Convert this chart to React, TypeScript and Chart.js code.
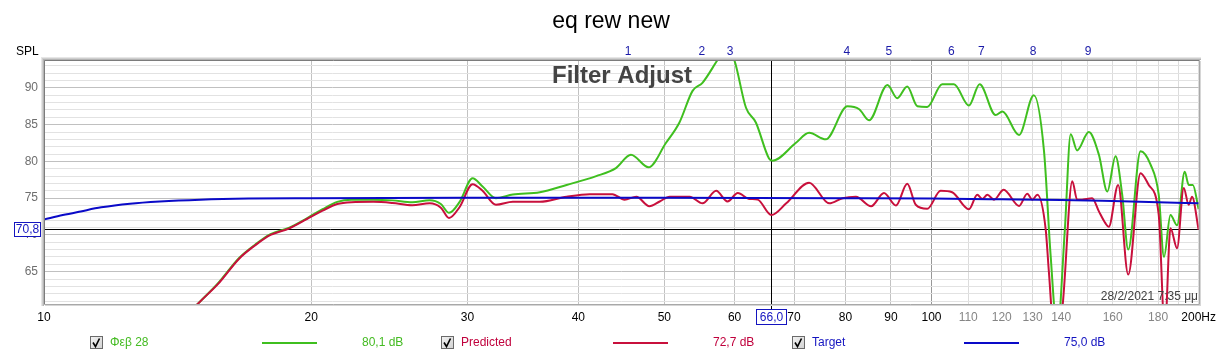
import React, { useEffect, useRef } from 'react';
import { Chart, registerables } from 'chart.js';
Chart.register(...registerables);

const FONT = "'Liberation Sans', Arial, sans-serif";
const GREEN = '#3fbf1f';
const RED = '#c8103c';
const BLUE = '#0a0ac8';

const chartTitle = 'eq rew new';
const overlayLabel = 'Filter Adjust';
const dateLabel = '28/2/2021 7:35 μμ';
const yAxisTitle = 'SPL';

const measFreq = [14.5, 14.9, 15.7, 16.6, 17.3, 18.0, 18.9, 19.8, 20.6, 21.4, 22.2, 23.5, 24.7, 26.0, 27.2, 28.0, 28.6, 29.4, 30.4, 31.2, 32.3, 33.75, 36.2, 38.8, 41.9, 44.1, 45.85, 48.0, 50.2, 52.0, 53.8, 55.2, 57.4, 58.7, 59.95, 61.8, 63.4, 65.6, 66.2, 70.3, 72.8, 76.0, 80.4, 82.9, 85.05, 89.2, 91.5, 93.9, 96.4, 98.9, 102.8, 106.0, 110.2, 113.3, 118.1, 120.2, 125.5, 130.4, 133.9, 136.2, 138.6, 141.3, 143.5, 145.9, 150.4, 154.4, 157.8, 161.2, 164.0, 166.6, 172.0, 176.5, 180.3, 182.8, 185.9, 189.1, 192.9, 194.9, 197.0, 200];
const measSpl = [59.0, 60.6, 63.4, 66.9, 68.7, 70.1, 71.0, 72.3, 73.5, 74.5, 74.8, 74.8, 74.7, 74.45, 74.7, 74.2, 73.0, 74.5, 77.7, 76.6, 75.0, 75.5, 75.8, 76.8, 78.0, 79.1, 80.9, 79.2, 82.5, 85.3, 89.6, 90.7, 93.8, 95.5, 93.8, 87.3, 85.3, 80.4, 80.1, 82.5, 83.9, 83.0, 87.5, 87.1, 85.6, 90.4, 88.6, 90.2, 87.5, 87.4, 90.5, 90.5, 87.6, 90.5, 86.3, 86.8, 83.6, 89.0, 81.4, 67.3, 57.0, 70.5, 83.7, 81.5, 84.0, 80.9, 75.9, 80.7, 75.5, 68.0, 81.4, 79.6, 75.5, 67.0, 72.7, 71.3, 78.6, 76.8, 76.8, 73.5];

const predFreq = [14.5, 14.9, 15.7, 16.6, 17.3, 18.0, 18.9, 19.8, 20.6, 21.4, 22.2, 23.5, 24.7, 26.0, 27.2, 28.0, 28.6, 29.4, 30.4, 31.2, 32.3, 33.75, 36.2, 38.8, 41.2, 43.7, 45.1, 46.5, 48.1, 49.4, 50.7, 53.4, 55.2, 57.2, 58.9, 60.5, 62.3, 63.7, 66.0, 68.6, 72.8, 76.7, 79.4, 82.2, 85.5, 88.4, 91.2, 93.9, 96.0, 98.9, 102.4, 105.5, 110.2, 112.6, 114.1, 115.6, 117.6, 120.6, 125.5, 128.2, 129.9, 131.6, 134.5, 135.6, 137.4, 140.4, 144.1, 145.9, 147.8, 149.5, 151.7, 154.4, 157.0, 158.4, 162.3, 166.6, 172.0, 175.7, 180.3, 183.2, 185.9, 189.1, 192.4, 194.9, 196.6, 200];
const predSpl = [59.0, 60.6, 63.3, 66.8, 68.6, 70.0, 70.9, 72.2, 73.3, 74.2, 74.45, 74.5, 74.35, 74.05, 74.3, 73.7, 72.3, 73.8, 76.9, 76.0, 74.1, 74.5, 74.5, 75.2, 75.55, 75.55, 74.8, 75.2, 73.9, 74.55, 75.2, 75.2, 74.3, 76.0, 74.55, 75.7, 74.9, 74.8, 72.7, 74.3, 77.1, 74.3, 75.0, 75.2, 73.9, 75.7, 74.0, 76.95, 74.1, 73.55, 76.0, 75.8, 73.5, 75.45, 74.9, 75.45, 74.8, 76.15, 73.95, 75.6, 74.8, 75.45, 70.7, 65.0, 57.0, 60.0, 77.3, 74.8, 74.8, 74.9, 75.0, 73.2, 71.6, 71.1, 76.8, 64.6, 78.4, 76.8, 72.8, 57.0, 70.9, 68.2, 76.4, 74.1, 75.2, 70.7];

const targetFreq = [10, 10.5, 11, 11.6, 12.5, 13.5, 15, 17, 20, 30, 50, 80, 100, 120, 140, 160, 180, 200];
const targetSpl = [72.1, 72.7, 73.2, 73.75, 74.25, 74.55, 74.8, 74.95, 75.0, 75.05, 75.05, 75.0, 74.95, 74.85, 74.75, 74.6, 74.45, 74.3];

const xTickValues = [10, 20, 30, 40, 50, 60, 70, 80, 90, 100, 110, 120, 130, 140, 150, 160, 170, 180, 190, 200];
const xTickLabels = ['10', '20', '30', '40', '50', '60', '70', '80', '90', '100', '110', '120', '130', '140', '', '160', '', '180', '', '200Hz'];
const yLabelValues = [65, 70, 75, 80, 85, 90];
const yMin = 60.6;
const yMax = 93.8;

const filterFreqs = [45.5, 55.1, 59.3, 80.3, 89.5, 105.3, 113.8, 130.2, 150.1];
const filterLabels = ['1', '2', '3', '4', '5', '6', '7', '8', '9'];

const cursorFreq = 66.0;
const cursorSpl = 70.8;
const cursorFreqLabel = '66,0';
const cursorSplLabel = '70,8';

const legendNames = ['Φεβ 28', 'Predicted', 'Target'];
const legendValues = ['80,1 dB', '72,7 dB', '75,0 dB'];
const legendColors = [GREEN, RED, BLUE];
const legendTextColors = ['#44bb22', '#c0003c', '#1414c0'];

function pts(fs: number[], vs: number[]) {
  return fs.map((f, i) => ({ x: f, y: vs[i] }));
}

function drawCheckbox(ctx: CanvasRenderingContext2D, x: number, y: number) {
  const g = ctx.createLinearGradient(x, y, x + 13, y + 13);
  g.addColorStop(0, '#f4f4f4');
  g.addColorStop(1, '#d0d0d0');
  ctx.fillStyle = g;
  ctx.fillRect(x, y, 13, 13);
  ctx.strokeStyle = '#6a6a6a';
  ctx.lineWidth = 1;
  ctx.strokeRect(x + 0.5, y + 0.5, 12, 12);
  ctx.strokeStyle = '#000';
  ctx.lineWidth = 1.6;
  ctx.beginPath();
  ctx.moveTo(x + 3, y + 6.5);
  ctx.lineTo(x + 5.5, y + 10.5);
  ctx.lineTo(x + 9.5, y + 2.5);
  ctx.stroke();
}

const overlay = {
  id: 'rewOverlay',
  beforeDatasetsDraw(chart: any) {
    const { ctx, chartArea: a, scales } = chart;
    const cx = Math.round(scales.x.getPixelForValue(cursorFreq)) + 0.5;
    const cy = Math.round(scales.y.getPixelForValue(cursorSpl)) + 0.5;
    ctx.save();
    ctx.strokeStyle = '#000';
    ctx.lineWidth = 1;
    ctx.beginPath();
    ctx.moveTo(cx, a.top);
    ctx.lineTo(cx, a.bottom + 5);
    ctx.moveTo(41, cy);
    ctx.lineTo(a.right, cy);
    ctx.stroke();
    ctx.restore();
  },
  afterDatasetsDraw(chart: any) {
    const { ctx, chartArea: a, scales } = chart;
    ctx.save();
    const L = Math.round(a.left), T = Math.round(a.top), R = Math.round(a.right), B = Math.round(a.bottom);
    const shades = ['#e6e6e6', '#cfcfcf', '#b4b4b4'];
    shades.forEach((c, i) => {
      const o = 3 - i;
      ctx.fillStyle = c;
      ctx.fillRect(L - o, T - o, R - L + o + 2, 1);
      ctx.fillRect(L - o, T - o, 1, B - T + o + 2);
    });
    ctx.strokeStyle = '#7c7c7c';
    ctx.lineWidth = 1;
    ctx.beginPath();
    ctx.moveTo(L + 0.5, B + 0.5);
    ctx.lineTo(L + 0.5, T + 0.5);
    ctx.lineTo(R + 0.5, T + 0.5);
    ctx.stroke();
    ctx.strokeStyle = '#a8a8a8';
    ctx.beginPath();
    ctx.moveTo(R + 0.5, T + 0.5);
    ctx.lineTo(R + 0.5, B + 0.5);
    ctx.lineTo(L + 0.5, B + 0.5);
    ctx.stroke();
    ctx.fillStyle = '#d6d6d6';
    ctx.fillRect(R + 1, T + 1, 1, B - T + 1);
    ctx.fillRect(L + 1, B + 1, R - L + 1, 1);

    ctx.fillStyle = '#000';
    ctx.font = `23px ${FONT}`;
    ctx.textAlign = 'center';
    ctx.textBaseline = 'alphabetic';
    ctx.fillText(chartTitle, 611, 28);

    ctx.font = `12px ${FONT}`;
    ctx.textAlign = 'left';
    ctx.fillText(yAxisTitle, 16, 54.5);

    ctx.fillStyle = '#1a1aa8';
    ctx.textAlign = 'center';
    filterFreqs.forEach((f, i) => {
      ctx.fillText(filterLabels[i], scales.x.getPixelForValue(f), 55);
    });

    ctx.fillStyle = '#444';
    ctx.font = `bold 24px ${FONT}`;
    ctx.textAlign = 'left';
    ctx.fillText(overlayLabel, 552, 83);

    ctx.fillStyle = '#404040';
    ctx.font = `12px ${FONT}`;
    ctx.textAlign = 'right';
    ctx.fillText(dateLabel, 1198, 300);

    const cx = scales.x.getPixelForValue(cursorFreq);
    const cy = scales.y.getPixelForValue(cursorSpl);
    ctx.fillStyle = '#fff';
    ctx.strokeStyle = '#1414c0';
    ctx.lineWidth = 1;
    ctx.fillRect(14, Math.round(cy) - 7, 27, 15);
    ctx.strokeRect(14.5, Math.round(cy) - 6.5, 26, 14);
    const bx = Math.round(cx) - 15;
    ctx.fillRect(bx, 309, 31, 16);
    ctx.strokeRect(bx + 0.5, 309.5, 30, 15);
    ctx.fillStyle = '#1414c0';
    ctx.textAlign = 'center';
    ctx.textBaseline = 'middle';
    ctx.fillText(cursorSplLabel, 27.5, Math.round(cy) + 1);
    ctx.fillText(cursorFreqLabel, bx + 15.5, 317.5);

    ctx.textAlign = 'left';
    legendNames.forEach((name, i) => {
      const x0 = 90 + i * 351;
      drawCheckbox(ctx, x0, 336);
      ctx.fillStyle = legendTextColors[i];
      ctx.font = `12px ${FONT}`;
      ctx.fillText(name, x0 + 20, 343);
      ctx.strokeStyle = legendColors[i];
      ctx.lineWidth = 2;
      ctx.beginPath();
      ctx.moveTo(x0 + 172, 343);
      ctx.lineTo(x0 + 227, 343);
      ctx.stroke();
      ctx.fillText(legendValues[i], x0 + 272, 343);
    });
    ctx.restore();
  },
};

export default function App() {
  const ref = useRef<HTMLCanvasElement>(null);
  useEffect(() => {
    document.body.style.margin = '0';
    const canvas = ref.current!;
    const common = { pointRadius: 0, borderWidth: 2, cubicInterpolationMode: 'monotone' as const, fill: false };
    const chart = new Chart(canvas, {
      type: 'line',
      data: {
        datasets: [
          { label: 'Target', data: pts(targetFreq, targetSpl), borderColor: BLUE, order: 1, ...common },
          { label: 'Predicted', data: pts(predFreq, predSpl), borderColor: RED, order: 2, ...common },
          { label: 'Φεβ 28', data: pts(measFreq, measSpl), borderColor: GREEN, order: 3, ...common },
        ],
      },
      options: {
        responsive: false,
        animation: false,
        devicePixelRatio: 1,
        events: [],
        layout: { padding: { top: 60, right: 22, left: 0, bottom: 0 } },
        plugins: { legend: { display: false }, tooltip: { enabled: false }, title: { display: false } },
        scales: {
          x: {
            type: 'logarithmic',
            min: 10,
            max: 200,
            afterBuildTicks: (s: any) => {
              s.ticks = xTickValues.map((v) => ({ value: v }));
            },
            afterFit: (s: any) => {
              s.height = 53;
            },
            border: { display: false },
            grid: {
              drawTicks: false,
              color: (c: any) => {
                const v = c.tick ? c.tick.value : 0;
                if (v === 100) return '#989898';
                if (v > 100) return '#dcdcdc';
                return '#c2c2c2';
              },
            },
            ticks: {
              autoSkip: false,
              maxRotation: 0,
              minRotation: 0,
              padding: 6,
              font: { family: FONT, size: 12 },
              color: (c: any) => {
                const v = c.tick ? c.tick.value : 0;
                return v > 100 && v < 200 ? '#858585' : '#000';
              },
              callback: (v: any) => {
                const i = xTickValues.indexOf(Number(v));
                return i >= 0 ? xTickLabels[i] : '';
              },
            },
          },
          y: {
            type: 'linear',
            min: yMin,
            max: yMax,
            afterBuildTicks: (s: any) => {
              const t: { value: number }[] = [];
              for (let v = Math.ceil(yMin); v <= Math.floor(yMax); v++) t.push({ value: v });
              s.ticks = t;
            },
            afterFit: (s: any) => {
              s.width = 44;
            },
            border: { display: false },
            grid: {
              drawTicks: false,
              color: (c: any) => {
                const v = c.tick ? c.tick.value : 0;
                return v % 5 === 0 ? '#c0c0c0' : '#e2e2e2';
              },
            },
            ticks: {
              autoSkip: false,
              padding: 6,
              font: { family: FONT, size: 12 },
              color: '#6e6e6e',
              callback: (v: any) => (yLabelValues.includes(Number(v)) ? String(v) : ''),
            },
          },
        },
      },
      plugins: [overlay],
    });
    return () => chart.destroy();
  }, []);
  return (
    <div style={{ width: 1222, height: 357, background: '#fff' }}>
      <canvas ref={ref} width={1222} height={357} style={{ display: 'block' }} />
    </div>
  );
}
